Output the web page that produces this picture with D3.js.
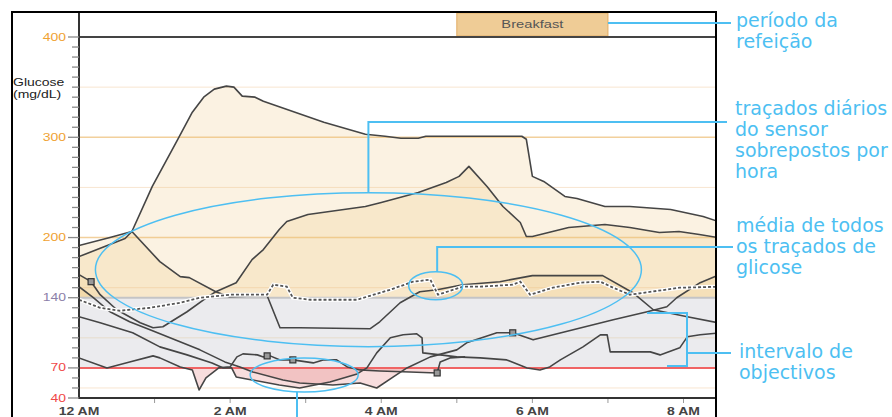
<!DOCTYPE html>
<html>
<head>
<meta charset="utf-8">
<script src="https://cdn.jsdelivr.net/npm/d3@7"></script>
<style>
body { margin: 0; background: #fff; }
svg { display: block; }
</style>
</head>
<body>
<div id="chart"></div>
<script>
const width = 892, height = 417;

// daily sensor traces: [hours after midnight, glucose mg/dL]
const trace1 = [[0,181],[0.34,191],[0.61,199],[0.70,206],[0.97,251],[1.30,297],[1.50,325],[1.65,340],[1.79,348],[1.95,351],[2.05,350],[2.16,341],[2.33,340],[2.44,336],[3.24,315],[3.79,303],[4.05,301],[4.26,299],[4.49,299],[4.59,301],[5.86,301],[5.92,298],[6.00,261],[6.15,256],[6.43,241],[6.59,239],[6.96,231],[7.29,231],[7.83,228],[8.26,221],[8.46,216]];
const trace2 = [[0,192],[0.41,200],[0.70,206],[1.07,176],[1.34,161],[1.46,160],[1.81,146],[1.99,141],[2.49,142],[2.66,110],[2.92,110],[3.85,109],[3.98,116],[4.25,135],[4.51,146],[4.74,148],[5.08,153],[5.57,156],[6.00,162],[6.93,162],[7.33,145],[7.60,128],[8.05,121],[8.46,115]];
const trace3 = [[0,163],[0.16,156],[0.28,143],[0.50,128],[0.81,115],[0.98,110],[1.11,111],[1.43,126],[1.69,140],[1.81,146],[2.08,155],[2.29,178],[2.44,188],[2.65,208],[2.75,216],[3.03,223],[3.79,231],[4.00,235],[4.49,245],[4.86,255],[5.03,261],[5.16,271],[5.40,251],[5.61,231],[5.84,215],[5.92,201],[6.00,201],[6.48,210],[6.96,213],[7.29,210],[7.68,205],[7.94,206],[8.21,203],[8.46,200]];
const trace4 = [[0,151],[0.19,140],[0.41,126],[0.67,116],[0.94,108],[1.27,98],[1.60,88],[1.93,76],[2.13,71],[2.30,66],[2.70,58],[2.92,55],[3.36,53],[3.72,55],[3.94,50],[4.16,61],[4.34,70],[4.65,81],[5.00,88],[5.13,95],[5.53,105],[5.74,105],[6.01,98],[6.54,108],[7.07,118],[7.52,126],[7.78,131],[7.91,140],[8.22,155],[8.48,163]];
const trace5 = [[0,80],[0.37,70],[0.67,76],[0.98,82],[1.07,80],[1.34,71],[1.50,68],[1.59,48],[1.68,60],[1.85,70],[2.00,71],[2.09,81],[2.17,84],[2.36,83],[2.44,81],[2.53,82],[2.66,78],[2.83,78],[3.10,75],[3.23,78],[3.41,78],[3.55,71],[3.72,68],[3.98,67],[4.38,66],[4.74,65],[4.78,76],[4.91,80],[5.11,81]];
const trace6 = [[0,121],[0.28,115],[0.71,105],[1.07,91],[1.43,83],[1.76,75],[1.91,70],[2.02,70],[2.08,61],[2.29,58],[2.65,53],[2.92,50],[3.32,56],[3.68,64],[3.81,70],[3.94,85],[4.12,100],[4.29,103],[4.47,104],[4.54,100],[4.55,85],[4.78,83],[5.00,81],[5.31,80],[5.66,78],[5.93,70],[6.10,68],[6.23,71],[6.37,78],[6.67,91],[6.90,103],[6.99,103],[7.03,86],[7.33,86],[7.56,86],[7.69,83],[7.95,90],[8.05,101],[8.22,103],[8.48,105]];
const traces = [trace1, trace2, trace3, trace4, trace5, trace6];

// average of all traces
const meanTrace = [[0,138],[0.28,130],[0.54,127],[0.94,130],[1.34,135],[1.60,140],[2.00,143],[2.49,143],[2.57,153],[2.75,151],[2.83,140],[3.06,138],[3.68,138],[4.12,148],[4.42,156],[4.65,158],[4.75,143],[5.08,151],[5.31,151],[5.74,153],[5.84,156],[5.97,143],[6.27,150],[6.63,155],[6.90,156],[7.07,150],[7.29,143],[7.95,150],[8.48,151]];

// event markers on traces
const markers = [[0.16,156],[2.49,82],[2.83,78],[4.74,65],[5.74,105]];

const targetRange = [70, 140];
const yTicks = [400, 300, 200, 140, 70, 40];
const gridValues = [50, 100, 150, 200, 250, 300, 350];
const xTicks = [0, 2, 4, 6, 8];
const xLabels = ["12 AM", "2 AM", "4 AM", "6 AM", "8 AM"];
const mealName = "Breakfast";
const mealPeriod = [5, 7];

const notes = [
  {lines: ["período da", "refeição"], x: 736, y: 27},
  {lines: ["traçados diários", "do sensor", "sobrepostos por", "hora"], x: 735, y: 115},
  {lines: ["média de todos", "os traçados de", "glicose"], x: 736, y: 232},
  {lines: ["intervalo de", "objectivos"], x: 739, y: 358}
];

const blue = "#4dbff2";

const svg = d3.select("#chart").append("svg")
    .attr("width", width)
    .attr("height", height)

const x = d3.scaleLinear().domain([0, 8.43]).range([79, 716]);
const y = d3.scaleLinear().domain([40, 400]).range([398, 37]);

const defs = svg.append("defs");
defs.append("clipPath").attr("id", "plot")
  .append("rect").attr("x", 79).attr("y", 37).attr("width", 637).attr("height", 361);
defs.append("clipPath").attr("id", "high")
  .append("rect").attr("x", 79).attr("y", 37).attr("width", 637).attr("height", y(140) - 37);
defs.append("clipPath").attr("id", "low")
  .append("rect").attr("x", 79).attr("y", y(70)).attr("width", 637).attr("height", 398 - y(70));

// text in the chart is drawn a bit wide, like the reference
function wideText(g, tx, ty, str) {
  return g.append("text")
    .attr("transform", `translate(${tx},${ty}) scale(1.4,1)`)
    .text(str);
}

// target range band
svg.append("rect")
  .attr("x", 79).attr("width", 637)
  .attr("y", y(targetRange[1])).attr("height", y(targetRange[0]) - y(targetRange[1]))
  .attr("fill", "#ebebee");

// grid
svg.selectAll("line.grid")
  .data(gridValues)
  .enter().append("line")
  .attr("class", "grid")
  .attr("x1", 79).attr("x2", 716)
  .attr("y1", d => y(d)).attr("y2", d => y(d))
  .attr("stroke", d => (d == 200 || d == 300) ? "#f2d09c" : (d == 100 ? "#e6dccb" : "#f8e5d0"))
  .attr("stroke-width", d => (d == 200 || d == 300) ? 1.5 : 1);

// above-range fills
const areaHigh = d3.area().x(d => x(d[0])).y0(y(140)).y1(d => y(d[1]));
svg.append("g").attr("clip-path", "url(#high)")
  .selectAll("path")
  .data(traces)
  .enter().append("path")
  .attr("d", areaHigh)
  .attr("fill", "#eec27a")
  .attr("fill-opacity", 0.22);

// below-range fills
const areaLow = d3.area().x(d => x(d[0])).y0(y(70)).y1(d => y(d[1]));
svg.append("g").attr("clip-path", "url(#low)")
  .selectAll("path")
  .data(traces)
  .enter().append("path")
  .attr("d", areaLow)
  .attr("fill", "#e07070")
  .attr("fill-opacity", 0.24);

// range limits
svg.append("line").attr("x1", 79).attr("x2", 716).attr("y1", y(140)).attr("y2", y(140))
  .attr("stroke", "#c4c4c6").attr("stroke-width", 2);
svg.append("line").attr("x1", 79).attr("x2", 716).attr("y1", y(70)).attr("y2", y(70))
  .attr("stroke", "#f06464").attr("stroke-width", 2);

const line = d3.line().x(d => x(d[0])).y(d => y(d[1]));
const plot = svg.append("g").attr("clip-path", "url(#plot)");

plot.selectAll("path.trace")
  .data(traces)
  .enter().append("path")
  .attr("class", "trace")
  .attr("d", line)
  .attr("fill", "none")
  .attr("stroke", "#454545")
  .attr("stroke-width", 1.6)
  .attr("stroke-linejoin", "round");

plot.append("path").datum(meanTrace)
  .attr("d", line).attr("fill", "none")
  .attr("stroke", "#fff").attr("stroke-width", 4);
plot.append("path").datum(meanTrace)
  .attr("d", line).attr("fill", "none")
  .attr("stroke", "#555").attr("stroke-width", 1.8)
  .attr("stroke-dasharray", "3,2");

plot.selectAll("rect.marker")
  .data(markers)
  .enter().append("rect")
  .attr("class", "marker")
  .attr("x", d => x(d[0]) - 3).attr("y", d => y(d[1]) - 3)
  .attr("width", 6).attr("height", 6)
  .attr("fill", "#999").attr("stroke", "#333").attr("stroke-width", 1.2);

// meal period
svg.append("rect")
  .attr("x", x(mealPeriod[0])).attr("width", x(mealPeriod[1]) - x(mealPeriod[0]))
  .attr("y", 13).attr("height", 23)
  .attr("fill", "#efcc96").attr("stroke", "#e2ad64");
wideText(svg, (x(mealPeriod[0]) + x(mealPeriod[1])) / 2, 28, mealName)
  .attr("text-anchor", "middle")
  .attr("font-family", "Liberation Sans, Arial, sans-serif")
  .attr("font-size", 10.5)
  .attr("fill", "#555");

// top (400) line and axes
svg.append("line").attr("x1", 79).attr("x2", 716).attr("y1", y(400)).attr("y2", y(400))
  .attr("stroke", "#444").attr("stroke-width", 2);
svg.append("line").attr("x1", 79).attr("x2", 716).attr("y1", 398).attr("y2", 398)
  .attr("stroke", "#333").attr("stroke-width", 2);
svg.append("line").attr("x1", 79).attr("x2", 79).attr("y1", 12).attr("y2", 399)
  .attr("stroke", "#333").attr("stroke-width", 2);

// y ticks every 10
svg.selectAll("line.ytick")
  .data(d3.range(40, 401, 10))
  .enter().append("line")
  .attr("class", "ytick")
  .attr("x1", d => yTicks.includes(d) ? 68 : 72).attr("x2", 79)
  .attr("y1", d => y(d)).attr("y2", d => y(d))
  .attr("stroke", "#8a8a8a").attr("stroke-width", 1.3);

const yColor = d => d >= 200 ? "#f0a232" : (d == 140 ? "#8c80a8" : "#f04848");
yTicks.forEach(function(d) {
  wideText(svg, 66, y(d) + 3.5, d)
    .attr("text-anchor", "end")
    .attr("font-family", "Liberation Sans, Arial, sans-serif")
    .attr("font-size", 10)
    .attr("fill", yColor(d));
});

wideText(svg, 13, 86, "Glucose")
  .attr("font-family", "Liberation Sans, Arial, sans-serif").attr("font-size", 10).attr("fill", "#222");
wideText(svg, 13, 98, "(mg/dL)")
  .attr("font-family", "Liberation Sans, Arial, sans-serif").attr("font-size", 10).attr("fill", "#222");

// hour ticks
svg.selectAll("line.xtick")
  .data(d3.range(1, 9))
  .enter().append("line")
  .attr("class", "xtick")
  .attr("x1", d => x(d)).attr("x2", d => x(d))
  .attr("y1", 399).attr("y2", 403)
  .attr("stroke", "#999");

xTicks.forEach(function(d, i) {
  wideText(svg, x(d), 415, xLabels[i])
    .attr("text-anchor", "middle")
    .attr("font-family", "Liberation Sans, Arial, sans-serif")
    .attr("font-size", 10)
    .attr("font-weight", "bold")
    .attr("fill", "#444");
});

// outer frame
svg.append("rect").attr("x", 12).attr("y", 12).attr("width", 704).attr("height", 430)
  .attr("fill", "none").attr("stroke", "#000").attr("stroke-width", 2);

// annotations
const ann = svg.append("g").attr("stroke", blue).attr("fill", "none");
ann.append("line").attr("x1", x(7)).attr("x2", 731).attr("y1", 23).attr("y2", 23).attr("stroke-width", 2);
ann.append("path").attr("d", `M727,122H${x(3.83)}V193`).attr("stroke-width", 2);
ann.append("ellipse").attr("cx", x(3.83)).attr("cy", y(168)).attr("rx", 273).attr("ry", 77).attr("stroke-width", 1.5);
ann.append("path").attr("d", `M733,247H${x(4.74)}V272`).attr("stroke-width", 2);
ann.append("ellipse").attr("cx", x(4.72)).attr("cy", y(152)).attr("rx", 27).attr("ry", 14).attr("stroke-width", 1.5);
ann.append("path").attr("d", `M647,313H687V366H667M687,353H731`).attr("stroke-width", 2);
ann.append("ellipse").attr("cx", x(2.98)).attr("cy", y(63)).attr("rx", 54).attr("ry", 17).attr("stroke-width", 1.5);
ann.append("line").attr("x1", 297).attr("x2", 297).attr("y1", 392).attr("y2", 417).attr("stroke-width", 2);

notes.forEach(function(n) {
  const t = svg.append("text")
    .attr("font-family", "DejaVu Sans, Verdana, sans-serif")
    .attr("font-size", 19)
    .attr("fill", blue);
  n.lines.forEach(function(s, i) {
    t.append("tspan").attr("x", n.x).attr("y", n.y + i * 21).text(s);
  });
});
</script>
</body>
</html>
